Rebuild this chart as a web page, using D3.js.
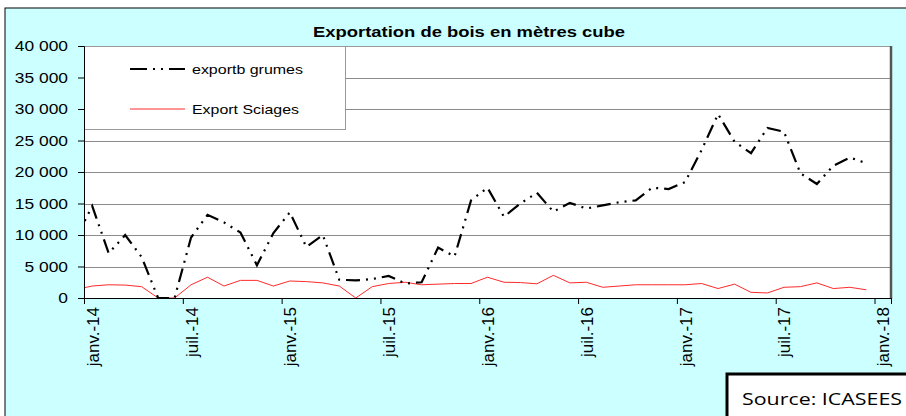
<!DOCTYPE html>
<html lang="fr">
<head>
<meta charset="utf-8">
<title>Exportation de bois en mètres cube</title>
<script src="https://cdn.jsdelivr.net/npm/d3@7"></script>
<style>
    body { margin: 0; background: #fff; }
    svg { display: block; font-family: "Liberation Sans", Arial, sans-serif; }
    .grid line { stroke: #8c8c8c; shape-rendering: crispEdges; }
    .grid .domain { display: none; }
    .yaxis text { font-size: 15px; fill: #000; }
    .xlabels text { font-size: 17px; fill: #000; }
</style>
</head>
<body>
<svg width="906" height="416"></svg>
<script>
// monthly values, déc.-13 .. déc.-17 (déc.-13 only enters the plot at its left edge)
var firstMonth = new Date(2013, 11, 1);
var grumes = [
    9400,
    14600, 7100, 10000, 6500, 0, 0, 9600, 13200, 12000, 10400, 5200, 10300,
    13600, 8100, 10000, 2900, 2800, 3000, 3500, 2300, 2500, 8000, 6600, 15500,
    17500, 12900, 15000, 16700, 13700, 15100, 14200, 14700, 15200, 15500, 17500, 17300,
    18400, 23500, 29200, 24800, 23000, 27000, 26400, 19800, 18100, 21000, 22300, 21400
];
var sciages = [
    1350,
    1900, 2100, 2050, 1800, 0, 0, 2100, 3300, 1900, 2800, 2800, 1900,
    2700, 2600, 2400, 1900, 0, 1800, 2300, 2500, 2100, 2200, 2300, 2300,
    3300, 2500, 2450, 2250, 3600, 2400, 2500, 1700, 1900, 2100, 2100, 2100,
    2100, 2300, 1500, 2200, 900, 800, 1700, 1800, 2400, 1500, 1700, 1300
];
var seriesNames = ["exportb grumes", "Export Sciages"];
var tickLabels = ["janv.-14", "juil.-14", "janv.-15", "juil.-15", "janv.-16",
                  "juil.-16", "janv.-17", "juil.-17", "janv.-18"];
var yTicks = [0, 5000, 10000, 15000, 20000, 25000, 30000, 35000, 40000];

var months = d3.timeMonth.range(firstMonth, new Date(2018, 0, 1));

var svg = d3.select("svg");
var W = 906, H = 416;
var L = 84, R = 891, T = 46, B = 298;

// outer chart area
svg.append("rect").attr("x", 5).attr("y", 8).attr("width", W).attr("height", H)
    .attr("fill", "#ccffff").attr("stroke", "#000").attr("stroke-width", 1);

var x = d3.scaleLinear().domain([0, 49]).range([L, R]);
var y = d3.scaleLinear().domain([0, 40000]).range([B, T]);
// category centre: janv.-14 is category 0
var xm = function(i) { return x(d3.timeMonth.count(new Date(2014, 0, 1), months[i]) + 0.5); };

svg.append("rect").attr("x", L).attr("y", T).attr("width", R - L).attr("height", B - T)
    .attr("fill", "#fff");

svg.append("g").attr("class", "grid")
    .attr("transform", "translate(" + L + ",0)")
    .call(d3.axisLeft(y).tickValues(yTicks.slice(1)).tickSize(-(R - L)).tickFormat(""));

svg.append("defs").append("clipPath").attr("id", "plot")
    .append("rect").attr("x", L).attr("y", T - 5).attr("width", R - L).attr("height", B - T + 6);

// legend box (covers the upper grid lines)
svg.append("rect").attr("x", L + 0.5).attr("y", T + 0.5).attr("width", 261).attr("height", 83)
    .attr("fill", "#fff").attr("stroke", "#999");

// plot frame
svg.append("line").attr("x1", L).attr("x2", R).attr("y1", T + 0.5).attr("y2", T + 0.5).attr("stroke", "#999");
svg.append("line").attr("x1", R).attr("x2", R).attr("y1", T).attr("y2", B + 1)
    .attr("stroke", "#555").attr("stroke-width", 2.5);

var line = d3.line().x(function(d, i) { return xm(i); }).y(function(d) { return y(d); });

var lines = svg.append("g").attr("clip-path", "url(#plot)");
lines.append("path").datum(sciages).attr("d", line)
    .attr("fill", "none").attr("stroke", "#ff2a2a").attr("stroke-width", 1);
lines.append("path").datum(grumes).attr("d", line)
    .attr("fill", "none").attr("stroke", "#000").attr("stroke-width", 2.2)
    .attr("stroke-dasharray", "14 6 2 6 2 6");

// axes
var fr = d3.formatLocale({ decimal: ",", thousands: " ", grouping: [3], currency: ["", " €"] });
var ya = svg.append("g").attr("class", "yaxis").attr("transform", "translate(" + L + ",0)")
    .call(d3.axisLeft(y).tickValues(yTicks).tickFormat(fr.format(",d")).tickSize(6).tickPadding(10));
ya.select(".domain").attr("stroke", "#000");
ya.selectAll("text").each(function() {
    this.setAttribute("textLength", this.getComputedTextLength() * 1.16);
    this.setAttribute("lengthAdjust", "spacingAndGlyphs");
});

var xa = svg.append("g").attr("transform", "translate(0," + B + ")")
    .call(d3.axisBottom(x).tickValues(d3.range(0, 49, 6)).tickSize(6).tickFormat(""));
xa.select(".domain").attr("stroke", "#000");

svg.append("g").attr("class", "xlabels").selectAll("text")
    .data(tickLabels).join("text")
    .attr("transform", function(d, i) { return "translate(" + (x(i * 6 + 0.5) + 0.5) + "," + (B + 9) + ") rotate(-90)"; })
    .attr("text-anchor", "end")
    .attr("dy", "0.35em")
    .text(function(d) { return d; });

// title
svg.append("text").attr("x", 469).attr("y", 37).attr("text-anchor", "middle")
    .attr("font-size", 15).attr("font-weight", "bold")
    .attr("textLength", 312).attr("lengthAdjust", "spacingAndGlyphs")
    .text("Exportation de bois en mètres cube");

// legend entries
var leg = svg.append("g").selectAll("g").data(seriesNames).join("g")
    .attr("transform", function(d, i) { return "translate(130," + (69 + i * 40) + ")"; });
leg.append("line").attr("x1", 0).attr("x2", 55)
    .attr("stroke", function(d, i) { return i ? "#ff2a2a" : "#000"; })
    .attr("stroke-width", function(d, i) { return i ? 1 : 2.2; })
    .attr("stroke-dasharray", function(d, i) { return i ? null : "17 6 2 6 2 6"; });
leg.append("text").attr("x", 62).attr("y", 5).attr("font-size", 13.5)
    .attr("textLength", function(d, i) { return i ? 107 : 111; })
    .attr("lengthAdjust", "spacingAndGlyphs")
    .text(function(d) { return d; });

// source note
svg.append("rect").attr("x", 727).attr("y", 374).attr("width", 200).attr("height", 60)
    .attr("fill", "#fff").attr("stroke", "#000").attr("stroke-width", 3);
svg.append("text").attr("x", 742).attr("y", 405)
    .attr("font-family", "'Open Sans', sans-serif").attr("font-size", 17)
    .attr("textLength", 160).attr("lengthAdjust", "spacingAndGlyphs")
    .text("Source: ICASEES");
</script>
</body>
</html>
